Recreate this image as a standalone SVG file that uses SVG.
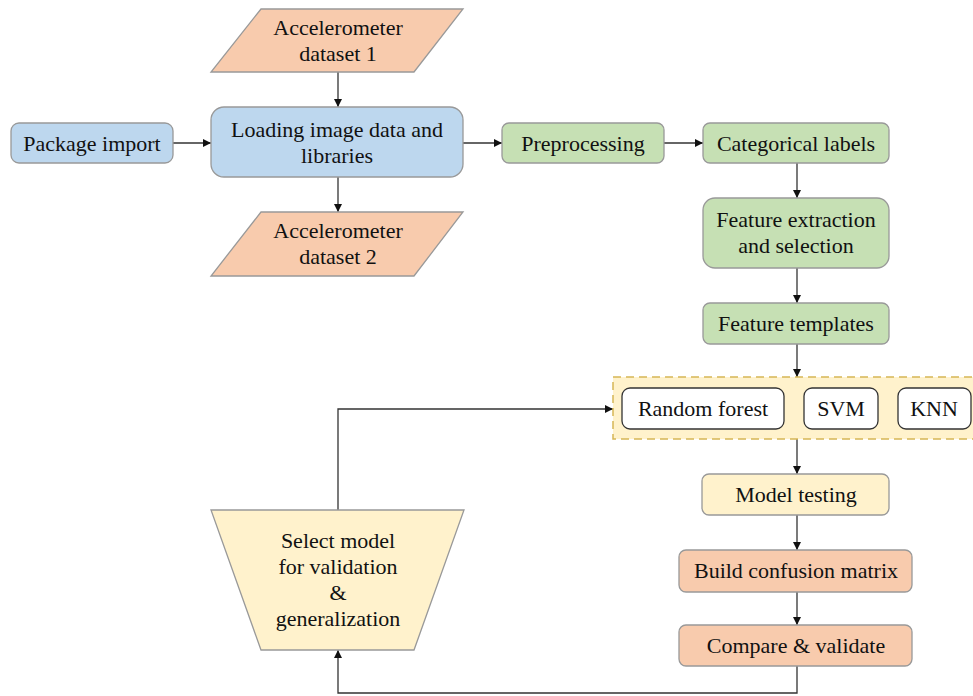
<svg xmlns="http://www.w3.org/2000/svg" width="973" height="696" viewBox="0 0 973 696">
<defs>
<marker id="arr" viewBox="0 0 10 10" refX="10" refY="5" markerWidth="8" markerHeight="8" markerUnits="userSpaceOnUse" orient="auto">
<path d="M0,0 L10,5 L0,10 z" fill="#111"/>
</marker>
<style>
text{font-size:22px;fill:#111;text-anchor:middle}
.blue{fill:#BDD7EE;stroke:#999;stroke-width:1.3}
.green{fill:#C6E0B4;stroke:#999;stroke-width:1.3}
.orange{fill:#F8CBAD;stroke:#999;stroke-width:1.3}
.yellow{fill:#FFF2CC;stroke:#999;stroke-width:1.3}
.white{fill:#fff;stroke:#333;stroke-width:1.3}
.cont{fill:#FFF2CC;stroke:#D6B656;stroke-width:1.5;stroke-dasharray:8 5}
.edge{fill:none;stroke:#333;stroke-width:1.3;marker-end:url(#arr)}
</style>
</defs>
<rect width="973" height="696" fill="#fff"/>

<g id="connectors">
<path class="edge" d="M338,72 V107"/>
<path class="edge" d="M338,177 V212"/>
<path class="edge" d="M173,143 H211"/>
<path class="edge" d="M463,143 H502"/>
<path class="edge" d="M664,143 H703"/>
<path class="edge" d="M797,163 V198"/>
<path class="edge" d="M797,268 V303"/>
<path class="edge" d="M797,344 V377"/>
<path class="edge" d="M797,439 V474"/>
<path class="edge" d="M797,515 V550"/>
<path class="edge" d="M797,592 V625"/>
<path class="edge" d="M797,666 V693 H338 V650"/>
<path class="edge" d="M338,510 V409 H613"/>
</g>

<g font-family="Liberation Serif, DejaVu Serif, serif">
<g id="dataset1">
<polygon class="orange" points="261,9 463,9 414,72 211,72"/>
<text x="338" y="35">Accelerometer</text>
<text x="338" y="61">dataset 1</text>
</g>
<g id="dataset2">
<polygon class="orange" points="261,212 463,212 414,276 211,276"/>
<text x="338" y="238">Accelerometer</text>
<text x="338" y="264">dataset 2</text>
</g>
<g id="package-import">
<rect class="blue" x="11" y="123" width="162" height="40" rx="8"/>
<text x="92" y="151">Package import</text>
</g>
<g id="loading">
<rect class="blue" x="211" y="107" width="252" height="70" rx="13"/>
<text x="337" y="137">Loading image data and</text>
<text x="337" y="163">libraries</text>
</g>
<g id="preprocessing">
<rect class="green" x="502" y="123" width="162" height="40" rx="7"/>
<text x="583" y="151">Preprocessing</text>
</g>
<g id="categorical-labels">
<rect class="green" x="703" y="123" width="186" height="40" rx="7"/>
<text x="796" y="151">Categorical labels</text>
</g>
<g id="feature-extraction">
<rect class="green" x="703" y="198" width="186" height="70" rx="12"/>
<text x="796" y="227">Feature extraction</text>
<text x="796" y="253">and selection</text>
</g>
<g id="feature-templates">
<rect class="green" x="703" y="303" width="186" height="41" rx="7"/>
<text x="796" y="331">Feature templates</text>
</g>
<g id="models">
<rect class="cont" x="613" y="377" width="380" height="62"/>
<g id="random-forest">
<rect class="white" x="622" y="388" width="162" height="41" rx="8"/>
<text x="703" y="416">Random forest</text>
</g>
<g id="svm">
<rect class="white" x="804" y="388" width="74" height="41" rx="8"/>
<text x="841" y="416">SVM</text>
</g>
<g id="knn">
<rect class="white" x="898" y="388" width="73" height="41" rx="8"/>
<text x="934" y="416">KNN</text>
</g>
</g>
<g id="model-testing">
<rect class="yellow" x="702" y="474" width="187" height="41" rx="7"/>
<text x="796" y="502">Model testing</text>
</g>
<g id="confusion-matrix">
<rect class="orange" x="679" y="550" width="233" height="42" rx="7"/>
<text x="796" y="578">Build confusion matrix</text>
</g>
<g id="compare-validate">
<rect class="orange" x="679" y="625" width="233" height="41" rx="7"/>
<text x="796" y="653">Compare &amp; validate</text>
</g>
<g id="select-model">
<polygon class="yellow" points="211,510 464,510 414,650 261,650"/>
<text x="338" y="548">Select model</text>
<text x="338" y="574">for validation</text>
<text x="338" y="600">&amp;</text>
<text x="338" y="626">generalization</text>
</g>
</g>
</svg>
